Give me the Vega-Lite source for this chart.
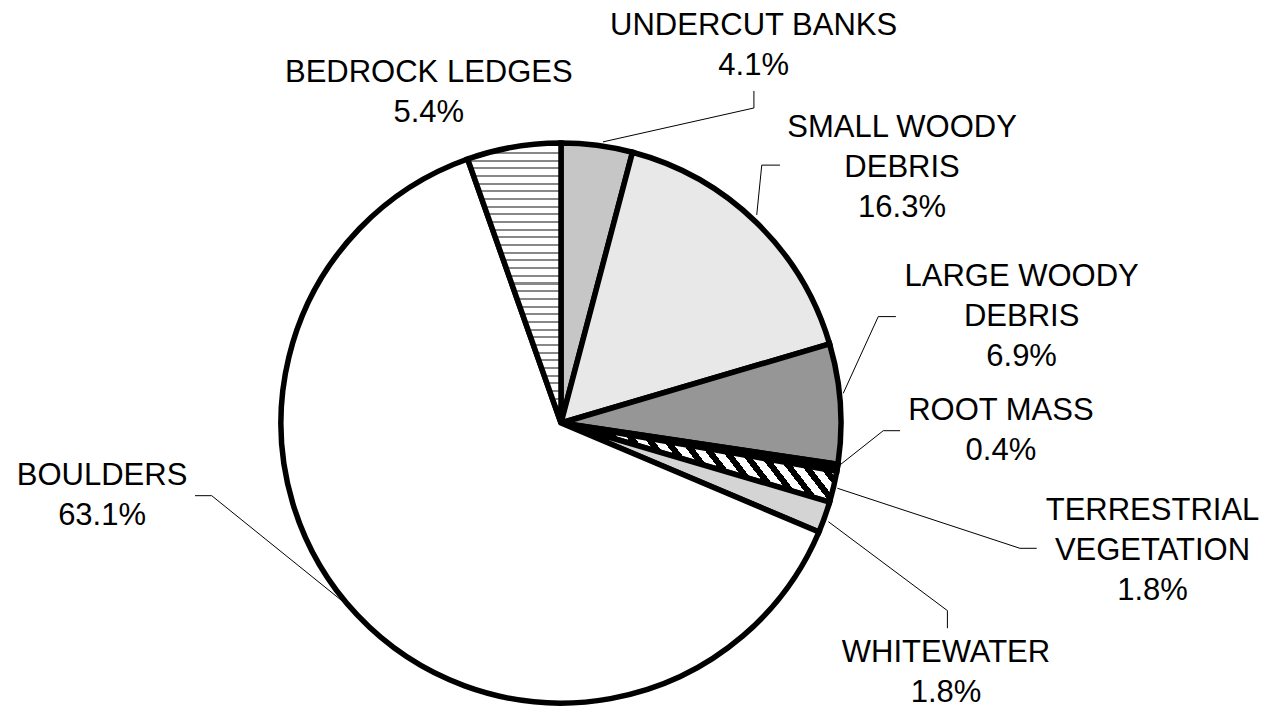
{
  "$schema": "https://vega.github.io/schema/vega-lite/v6.json",
  "width": 1269,
  "height": 709,
  "padding": 0,
  "autosize": {"type": "none"},
  "background": "white",
  "config": {"view": {"stroke": null}, "font": "Liberation Sans"},
  "datasets": {
    "slices": [
      {"category": "UNDERCUT BANKS", "label": "UNDERCUT BANKS", "pct": 4.1, "lx": 0.688, "ly": 1.386},
      {"category": "SMALL WOODY DEBRIS", "label": "SMALL WOODY\nDEBRIS", "pct": 16.3, "lx": 1.218, "ly": 1.021},
      {"category": "LARGE WOODY DEBRIS", "label": "LARGE WOODY\nDEBRIS", "pct": 6.9, "lx": 1.645, "ly": 0.489},
      {"category": "ROOT MASS", "label": "ROOT MASS", "pct": 0.4, "lx": 1.571, "ly": 0.011},
      {"category": "TERRESTRIAL VEGETATION", "label": "TERRESTRIAL\nVEGETATION", "pct": 1.8, "lx": 2.1125, "ly": -0.346},
      {"category": "WHITEWATER", "label": "WHITEWATER", "pct": 1.8, "lx": 1.375, "ly": -0.855},
      {"category": "BOULDERS", "label": "BOULDERS", "pct": 63.1, "lx": -1.639, "ly": -0.221},
      {"category": "BEDROCK LEDGES", "label": "BEDROCK LEDGES", "pct": 5.4, "lx": -0.472, "ly": 1.219}
    ],
    "leaders": [
      {"lbl": "UNDERCUT BANKS", "i": 1, "x": 0.689, "y": 1.186},
      {"lbl": "UNDERCUT BANKS", "i": 2, "x": 0.689, "y": 1.125},
      {"lbl": "UNDERCUT BANKS", "i": 3, "x": 0.15, "y": 1.004},
      {"lbl": "SMALL WOODY DEBRIS", "i": 1, "x": 0.782, "y": 0.921},
      {"lbl": "SMALL WOODY DEBRIS", "i": 2, "x": 0.717, "y": 0.921},
      {"lbl": "SMALL WOODY DEBRIS", "i": 3, "x": 0.699, "y": 0.743},
      {"lbl": "LARGE WOODY DEBRIS", "i": 1, "x": 1.196, "y": 0.38},
      {"lbl": "LARGE WOODY DEBRIS", "i": 2, "x": 1.133, "y": 0.38},
      {"lbl": "LARGE WOODY DEBRIS", "i": 3, "x": 1.008, "y": 0.106},
      {"lbl": "ROOT MASS", "i": 1, "x": 1.211, "y": -0.0275},
      {"lbl": "ROOT MASS", "i": 2, "x": 1.151, "y": -0.0275},
      {"lbl": "ROOT MASS", "i": 3, "x": 0.996, "y": -0.15},
      {"lbl": "TERRESTRIAL VEGETATION", "i": 1, "x": 0.987, "y": -0.233},
      {"lbl": "TERRESTRIAL VEGETATION", "i": 2, "x": 1.639, "y": -0.4475},
      {"lbl": "TERRESTRIAL VEGETATION", "i": 3, "x": 1.699, "y": -0.4475},
      {"lbl": "WHITEWATER", "i": 1, "x": 0.955, "y": -0.3525},
      {"lbl": "WHITEWATER", "i": 2, "x": 1.38, "y": -0.67},
      {"lbl": "WHITEWATER", "i": 3, "x": 1.38, "y": -0.733},
      {"lbl": "BOULDERS", "i": 1, "x": -1.307, "y": -0.2596},
      {"lbl": "BOULDERS", "i": 2, "x": -1.2475, "y": -0.2596},
      {"lbl": "BOULDERS", "i": 3, "x": -0.771, "y": -0.644}
    ]
  },
  "layer": [
    {
      "data": {"name": "slices"},
      "transform": [{"window": [{"op": "row_number", "as": "idx"}]}],
      "mark": {"type": "arc", "outerRadius": 280, "stroke": "black", "strokeWidth": 5.5},
      "encoding": {
        "x": {"datum": 0, "type": "quantitative", "scale": {"domain": [-2.00357, 2.52857], "nice": false, "zero": false}, "axis": null},
        "y": {"datum": 0, "type": "quantitative", "scale": {"domain": [-1.02143, 1.51071], "nice": false, "zero": false}, "axis": null},
        "theta": {"field": "pct", "type": "quantitative", "stack": true},
        "detail": {"field": "category"},
        "order": {"field": "idx", "type": "quantitative"},
        "fill": {
          "condition": [
            {"test": "datum.category === 'UNDERCUT BANKS'", "value": "#c6c6c6"},
            {"test": "datum.category === 'SMALL WOODY DEBRIS'", "value": "#e8e8e8"},
            {"test": "datum.category === 'LARGE WOODY DEBRIS'", "value": "#969696"},
            {"test": "datum.category === 'ROOT MASS'", "value": "#000000"},
            {"test": "datum.category === 'TERRESTRIAL VEGETATION'", "value": {
              "gradient": "linear", "x1": 0, "y1": 0.2207, "x2": 1, "y2": 0,
              "stops": [
                {"offset": 0, "color": "black"}, {"offset": 0.0265, "color": "black"}, {"offset": 0.0265, "color": "white"}, {"offset": 0.0588, "color": "white"},
                {"offset": 0.0588, "color": "black"}, {"offset": 0.0853, "color": "black"}, {"offset": 0.0853, "color": "white"}, {"offset": 0.1176, "color": "white"},
                {"offset": 0.1176, "color": "black"}, {"offset": 0.1441, "color": "black"}, {"offset": 0.1441, "color": "white"}, {"offset": 0.1765, "color": "white"},
                {"offset": 0.1765, "color": "black"}, {"offset": 0.203, "color": "black"}, {"offset": 0.203, "color": "white"}, {"offset": 0.2353, "color": "white"},
                {"offset": 0.2353, "color": "black"}, {"offset": 0.2618, "color": "black"}, {"offset": 0.2618, "color": "white"}, {"offset": 0.2941, "color": "white"},
                {"offset": 0.2941, "color": "black"}, {"offset": 0.3206, "color": "black"}, {"offset": 0.3206, "color": "white"}, {"offset": 0.3529, "color": "white"},
                {"offset": 0.3529, "color": "black"}, {"offset": 0.3794, "color": "black"}, {"offset": 0.3794, "color": "white"}, {"offset": 0.4118, "color": "white"},
                {"offset": 0.4118, "color": "black"}, {"offset": 0.4383, "color": "black"}, {"offset": 0.4383, "color": "white"}, {"offset": 0.4706, "color": "white"},
                {"offset": 0.4706, "color": "black"}, {"offset": 0.4971, "color": "black"}, {"offset": 0.4971, "color": "white"}, {"offset": 0.5294, "color": "white"},
                {"offset": 0.5294, "color": "black"}, {"offset": 0.5559, "color": "black"}, {"offset": 0.5559, "color": "white"}, {"offset": 0.5882, "color": "white"},
                {"offset": 0.5882, "color": "black"}, {"offset": 0.6147, "color": "black"}, {"offset": 0.6147, "color": "white"}, {"offset": 0.6471, "color": "white"},
                {"offset": 0.6471, "color": "black"}, {"offset": 0.6736, "color": "black"}, {"offset": 0.6736, "color": "white"}, {"offset": 0.7059, "color": "white"},
                {"offset": 0.7059, "color": "black"}, {"offset": 0.7324, "color": "black"}, {"offset": 0.7324, "color": "white"}, {"offset": 0.7647, "color": "white"},
                {"offset": 0.7647, "color": "black"}, {"offset": 0.7912, "color": "black"}, {"offset": 0.7912, "color": "white"}, {"offset": 0.8235, "color": "white"},
                {"offset": 0.8235, "color": "black"}, {"offset": 0.85, "color": "black"}, {"offset": 0.85, "color": "white"}, {"offset": 0.8824, "color": "white"},
                {"offset": 0.8824, "color": "black"}, {"offset": 0.9089, "color": "black"}, {"offset": 0.9089, "color": "white"}, {"offset": 0.9412, "color": "white"},
                {"offset": 0.9412, "color": "black"}, {"offset": 0.9677, "color": "black"}, {"offset": 0.9677, "color": "white"}, {"offset": 1, "color": "white"}
              ]}},
            {"test": "datum.category === 'WHITEWATER'", "value": "#d4d4d4"},
            {"test": "datum.category === 'BEDROCK LEDGES'", "value": {
              "gradient": "linear", "x1": 0, "y1": 0, "x2": 0, "y2": 1,
              "stops": [
                {"offset": 0, "color": "#ffffff"},
                {"offset": 0.005, "color": "#ffffff"}, {"offset": 0.005, "color": "#888888"}, {"offset": 0.0122, "color": "#888888"}, {"offset": 0.0122, "color": "#ffffff"},
                {"offset": 0.0324, "color": "#ffffff"}, {"offset": 0.0324, "color": "#888888"}, {"offset": 0.0396, "color": "#888888"}, {"offset": 0.0396, "color": "#ffffff"},
                {"offset": 0.0598, "color": "#ffffff"}, {"offset": 0.0598, "color": "#888888"}, {"offset": 0.067, "color": "#888888"}, {"offset": 0.067, "color": "#ffffff"},
                {"offset": 0.0872, "color": "#ffffff"}, {"offset": 0.0872, "color": "#888888"}, {"offset": 0.0944, "color": "#888888"}, {"offset": 0.0944, "color": "#ffffff"},
                {"offset": 0.1146, "color": "#ffffff"}, {"offset": 0.1146, "color": "#888888"}, {"offset": 0.1218, "color": "#888888"}, {"offset": 0.1218, "color": "#ffffff"},
                {"offset": 0.142, "color": "#ffffff"}, {"offset": 0.142, "color": "#888888"}, {"offset": 0.1492, "color": "#888888"}, {"offset": 0.1492, "color": "#ffffff"},
                {"offset": 0.1694, "color": "#ffffff"}, {"offset": 0.1694, "color": "#888888"}, {"offset": 0.1766, "color": "#888888"}, {"offset": 0.1766, "color": "#ffffff"},
                {"offset": 0.1968, "color": "#ffffff"}, {"offset": 0.1968, "color": "#888888"}, {"offset": 0.204, "color": "#888888"}, {"offset": 0.204, "color": "#ffffff"},
                {"offset": 0.2242, "color": "#ffffff"}, {"offset": 0.2242, "color": "#888888"}, {"offset": 0.2314, "color": "#888888"}, {"offset": 0.2314, "color": "#ffffff"},
                {"offset": 0.2516, "color": "#ffffff"}, {"offset": 0.2516, "color": "#888888"}, {"offset": 0.2588, "color": "#888888"}, {"offset": 0.2588, "color": "#ffffff"},
                {"offset": 0.279, "color": "#ffffff"}, {"offset": 0.279, "color": "#888888"}, {"offset": 0.2862, "color": "#888888"}, {"offset": 0.2862, "color": "#ffffff"},
                {"offset": 0.3064, "color": "#ffffff"}, {"offset": 0.3064, "color": "#888888"}, {"offset": 0.3136, "color": "#888888"}, {"offset": 0.3136, "color": "#ffffff"},
                {"offset": 0.3338, "color": "#ffffff"}, {"offset": 0.3338, "color": "#888888"}, {"offset": 0.341, "color": "#888888"}, {"offset": 0.341, "color": "#ffffff"},
                {"offset": 0.3612, "color": "#ffffff"}, {"offset": 0.3612, "color": "#888888"}, {"offset": 0.3684, "color": "#888888"}, {"offset": 0.3684, "color": "#ffffff"},
                {"offset": 0.3886, "color": "#ffffff"}, {"offset": 0.3886, "color": "#888888"}, {"offset": 0.3958, "color": "#888888"}, {"offset": 0.3958, "color": "#ffffff"},
                {"offset": 0.416, "color": "#ffffff"}, {"offset": 0.416, "color": "#888888"}, {"offset": 0.4232, "color": "#888888"}, {"offset": 0.4232, "color": "#ffffff"},
                {"offset": 0.4434, "color": "#ffffff"}, {"offset": 0.4434, "color": "#888888"}, {"offset": 0.4506, "color": "#888888"}, {"offset": 0.4506, "color": "#ffffff"},
                {"offset": 0.4708, "color": "#ffffff"}, {"offset": 0.4708, "color": "#888888"}, {"offset": 0.478, "color": "#888888"}, {"offset": 0.478, "color": "#ffffff"},
                {"offset": 0.4982, "color": "#ffffff"}, {"offset": 0.4982, "color": "#888888"}, {"offset": 0.5054, "color": "#888888"}, {"offset": 0.5054, "color": "#ffffff"},
                {"offset": 0.5256, "color": "#ffffff"}, {"offset": 0.5256, "color": "#888888"}, {"offset": 0.5328, "color": "#888888"}, {"offset": 0.5328, "color": "#ffffff"},
                {"offset": 0.553, "color": "#ffffff"}, {"offset": 0.553, "color": "#888888"}, {"offset": 0.5602, "color": "#888888"}, {"offset": 0.5602, "color": "#ffffff"},
                {"offset": 0.5804, "color": "#ffffff"}, {"offset": 0.5804, "color": "#888888"}, {"offset": 0.5876, "color": "#888888"}, {"offset": 0.5876, "color": "#ffffff"},
                {"offset": 0.6078, "color": "#ffffff"}, {"offset": 0.6078, "color": "#888888"}, {"offset": 0.615, "color": "#888888"}, {"offset": 0.615, "color": "#ffffff"},
                {"offset": 0.6352, "color": "#ffffff"}, {"offset": 0.6352, "color": "#888888"}, {"offset": 0.6424, "color": "#888888"}, {"offset": 0.6424, "color": "#ffffff"},
                {"offset": 0.6626, "color": "#ffffff"}, {"offset": 0.6626, "color": "#888888"}, {"offset": 0.6698, "color": "#888888"}, {"offset": 0.6698, "color": "#ffffff"},
                {"offset": 0.69, "color": "#ffffff"}, {"offset": 0.69, "color": "#888888"}, {"offset": 0.6972, "color": "#888888"}, {"offset": 0.6972, "color": "#ffffff"},
                {"offset": 0.7174, "color": "#ffffff"}, {"offset": 0.7174, "color": "#888888"}, {"offset": 0.7246, "color": "#888888"}, {"offset": 0.7246, "color": "#ffffff"},
                {"offset": 0.7448, "color": "#ffffff"}, {"offset": 0.7448, "color": "#888888"}, {"offset": 0.752, "color": "#888888"}, {"offset": 0.752, "color": "#ffffff"},
                {"offset": 0.7722, "color": "#ffffff"}, {"offset": 0.7722, "color": "#888888"}, {"offset": 0.7794, "color": "#888888"}, {"offset": 0.7794, "color": "#ffffff"},
                {"offset": 0.7996, "color": "#ffffff"}, {"offset": 0.7996, "color": "#888888"}, {"offset": 0.8068, "color": "#888888"}, {"offset": 0.8068, "color": "#ffffff"},
                {"offset": 0.827, "color": "#ffffff"}, {"offset": 0.827, "color": "#888888"}, {"offset": 0.8342, "color": "#888888"}, {"offset": 0.8342, "color": "#ffffff"},
                {"offset": 0.8544, "color": "#ffffff"}, {"offset": 0.8544, "color": "#888888"}, {"offset": 0.8616, "color": "#888888"}, {"offset": 0.8616, "color": "#ffffff"},
                {"offset": 0.8818, "color": "#ffffff"}, {"offset": 0.8818, "color": "#888888"}, {"offset": 0.889, "color": "#888888"}, {"offset": 0.889, "color": "#ffffff"},
                {"offset": 0.9092, "color": "#ffffff"}, {"offset": 0.9092, "color": "#888888"}, {"offset": 0.9164, "color": "#888888"}, {"offset": 0.9164, "color": "#ffffff"},
                {"offset": 0.9366, "color": "#ffffff"}, {"offset": 0.9366, "color": "#888888"}, {"offset": 0.9438, "color": "#888888"}, {"offset": 0.9438, "color": "#ffffff"},
                {"offset": 0.964, "color": "#ffffff"}, {"offset": 0.964, "color": "#888888"}, {"offset": 0.9712, "color": "#888888"}, {"offset": 0.9712, "color": "#ffffff"},
                {"offset": 0.9914, "color": "#ffffff"}, {"offset": 0.9914, "color": "#888888"}, {"offset": 0.9986, "color": "#888888"}, {"offset": 0.9986, "color": "#ffffff"},
                {"offset": 1, "color": "#ffffff"}
              ]}}
          ],
          "value": "white"
        }
      }
    },
    {
      "data": {"name": "leaders"},
      "mark": {"type": "line", "stroke": "black", "strokeWidth": 1, "interpolate": "linear"},
      "encoding": {
        "x": {"field": "x", "type": "quantitative", "scale": {"domain": [-2.00357, 2.52857], "nice": false, "zero": false}, "axis": null},
        "y": {"field": "y", "type": "quantitative", "scale": {"domain": [-1.02143, 1.51071], "nice": false, "zero": false}, "axis": null},
        "detail": {"field": "lbl"},
        "order": {"field": "i", "type": "quantitative"}
      }
    },
    {
      "data": {"name": "slices"},
      "transform": [{"calculate": "datum.label + '\\n' + format(datum.pct, '.1f') + '%'", "as": "txt"}],
      "mark": {"type": "text", "font": "Liberation Sans", "fontSize": 31, "lineHeight": 40, "lineBreak": "\n", "align": "center", "baseline": "alphabetic", "fill": "black"},
      "encoding": {
        "x": {"field": "lx", "type": "quantitative", "scale": {"domain": [-2.00357, 2.52857], "nice": false, "zero": false}, "axis": null},
        "y": {"field": "ly", "type": "quantitative", "scale": {"domain": [-1.02143, 1.51071], "nice": false, "zero": false}, "axis": null},
        "text": {"field": "txt"}
      }
    }
  ]
}
